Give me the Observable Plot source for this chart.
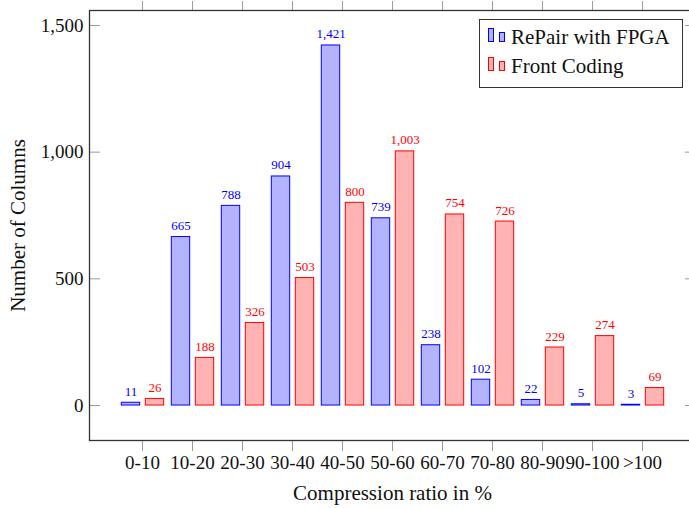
<!DOCTYPE html>
<html><head><meta charset="utf-8">
<script src="https://cdn.jsdelivr.net/npm/d3@7"></script>
<script src="https://cdn.jsdelivr.net/npm/@observablehq/plot@0.6"></script>
<style>
html,body{margin:0;padding:0;overflow:hidden;background:#fff;}
#wrap{position:relative;width:689px;height:508px;overflow:hidden;}
#wrap svg{max-width:none !important;width:696px;height:508px;}
#legend{position:absolute;left:479px;top:19px;width:204px;height:69px;box-sizing:border-box;border:1px solid #333;background:#fff;font-family:"Liberation Serif",serif;font-size:21px;color:#111;}
.sw{position:absolute;box-sizing:border-box;}
.lt{position:absolute;left:31px;white-space:nowrap;line-height:24px;}
</style>
</head><body>
<div id="wrap"></div>
<script>
const categories = ["0-10","10-20","20-30","30-40","40-50","50-60","60-70","70-80","80-90","90-100",">100"];
const repairValues = [11, 665, 788, 904, 1421, 739, 238, 102, 22, 5, 3];
const frontValues = [26, 188, 326, 503, 800, 1003, 754, 726, 229, 274, 69];
const yTicks = [0, 500, 1000, 1500];
const seriesNames = ["RePair with FPGA", "Front Coding"];
const xLabel = "Compression ratio in %";
const yLabel = "Number of Columns";

const repair = categories.map((c, i) => ({category: c, value: repairValues[i]}));
const front = categories.map((c, i) => ({category: c, value: frontValues[i]}));
const fmt = d3.format(",");
const blue = "#0000ff", blueFill = "#b3b3ff", red = "#ff0000", redFill = "#ffb3b3";

const chart = Plot.plot({
  width: 696, height: 508,
  marginLeft: 89, marginRight: 1, marginTop: 10, marginBottom: 68,
  style: {fontFamily: "'Liberation Serif', serif", fontSize: "19px", color: "#111", background: "#fff", maxWidth: "none"},
  x: {type: "band", domain: categories, padding: 0, insetLeft: 25, insetRight: 25, label: null},
  y: {domain: [-138, 1559], label: null},
  marks: [
    Plot.barY(repair, {x: "category", y: "value", fill: blueFill, stroke: blue, strokeWidth: 1, insetLeft: 4.3, insetRight: 27.3}),
    Plot.barY(front, {x: "category", y: "value", fill: redFill, stroke: red, strokeWidth: 1, insetLeft: 28.3, insetRight: 3.3}),
    Plot.text(repair, {x: "category", y: "value", text: d => fmt(d.value), dx: -11.5, dy: -7, lineAnchor: "bottom", fill: blue, fontSize: 13}),
    Plot.text(front, {x: "category", y: "value", text: d => fmt(d.value), dx: 12.5, dy: -7, lineAnchor: "bottom", fill: red, fontSize: 13}),
    Plot.axisY({anchor: "left", ticks: yTicks, tickFormat: fmt, tickSize: -11, tickPadding: 17, stroke: "#9a9a9a", fill: "#111", label: null}),
    Plot.axisY({anchor: "right", ticks: yTicks, tickFormat: () => "", tickSize: -11, stroke: "#9a9a9a", label: null}),
    Plot.axisX({anchor: "bottom", tickSize: 11, tickPadding: 4, stroke: "#9a9a9a", fill: "#111", label: null}),
    Plot.axisX({anchor: "top", tickSize: 10, tickFormat: () => "", stroke: "#9a9a9a", label: null}),
    Plot.text([yLabel], {frameAnchor: "left", dx: -71, rotate: -90, textAnchor: "middle", lineAnchor: "middle", fill: "#111", fontSize: 21}),
    Plot.text([xLabel], {frameAnchor: "bottom", dy: 53, textAnchor: "middle", lineAnchor: "middle", fill: "#111", fontSize: 21}),
    Plot.frame({stroke: "#333", strokeWidth: 1.3})
  ]
});
const wrap = document.getElementById("wrap");
wrap.appendChild(chart);

const legend = document.createElement("div");
legend.id = "legend";
const rows = [
  {name: seriesNames[0], stroke: blue, fill: blueFill, top: 5, swTop: 8},
  {name: seriesNames[1], stroke: red, fill: redFill, top: 34, swTop: 37}
];
for (const r of rows) {
  const s1 = document.createElement("div");
  s1.className = "sw";
  Object.assign(s1.style, {left: "8px", top: r.swTop + "px", width: "6px", height: "14px", border: "1px solid " + r.stroke, background: r.fill});
  const s2 = document.createElement("div");
  s2.className = "sw";
  Object.assign(s2.style, {left: "19px", top: (r.swTop + 4) + "px", width: "6px", height: "10px", border: "1px solid " + r.stroke, background: r.fill});
  const t = document.createElement("div");
  t.className = "lt";
  t.style.top = r.top + "px";
  t.textContent = r.name;
  legend.append(s1, s2, t);
}
wrap.appendChild(legend);
</script>
</body></html>
